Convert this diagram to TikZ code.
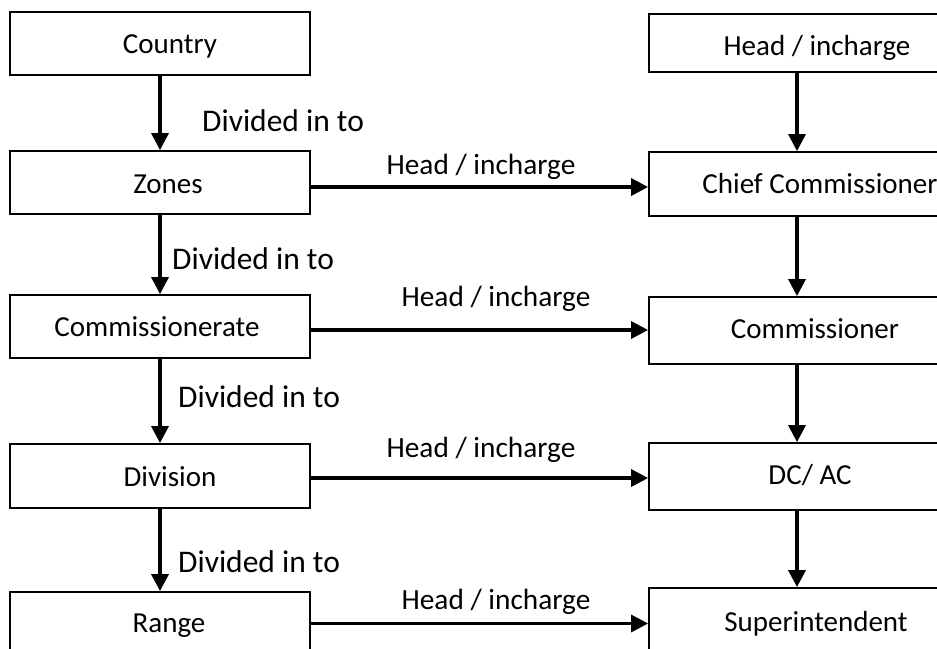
\documentclass[tikz,border=0pt]{standalone}
\usepackage{fontspec}
\setmainfont{Carlito}
\usetikzlibrary{arrows.meta}
\begin{document}
\begin{tikzpicture}[x=1pt,y=-1pt,
  box/.style={draw, line width=1.8pt, inner sep=0pt, minimum width=300pt},
  rbox/.style={draw, line width=1.8pt, inner sep=0pt, minimum width=296pt},
  txt/.style={inner sep=0pt, anchor=base, font=\fontsize{29}{35}\selectfont},
  lbl/.style={inner sep=0pt, anchor=base west, font=\fontsize{31.5}{38}\selectfont},
  hlbl/.style={inner sep=0pt, anchor=base, font=\fontsize{29.3}{35}\selectfont},
  arr/.style={line width=3.3pt, -{Triangle[length=17pt,width=17pt]}}]
\useasboundingbox (0,0) rectangle (937,648);
\clip (0,0) rectangle (937,648);
% left column
\node[box, minimum height=63pt] (country) at (160,43.5) {};
\node[box, minimum height=63pt] (zones) at (160,182.5) {};
\node[box, minimum height=63pt] (commte) at (160,326.5) {};
\node[box, minimum height=64pt] (division) at (160,476) {};
\node[box, minimum height=63pt] (range) at (160,623.5) {};
\node[txt] (countryT) at (170,53) {Country};
\node[txt] (zonesT) at (168,193) {Zones};
\node[txt] (commteT) at (157,336) {Commissionerate};
\node[txt] (divisionT) at (170,486) {Division};
\node[txt] (rangeT) at (169,632) {Range};
% right column
\node[rbox, minimum height=58pt] (head) at (797,43) {};
\node[rbox, minimum height=64pt] (chief) at (797,184) {};
\node[rbox, minimum height=67pt] (commr) at (797,330.5) {};
\node[rbox, minimum height=67pt] (dcac) at (797,476.5) {};
\node[rbox, minimum height=67pt] (supdt) at (797,621.5) {};
\node[txt] (headT) at (817,55) {Head / incharge};
\node[txt] (chiefT) at (820,193) {Chief Commissioner};
\node[txt] (commrT) at (815,338) {Commissioner};
\node[txt] (dcacT) at (810,484) {DC/ AC};
\node[txt] (supdtT) at (816,631) {Superintendent};
% vertical arrows
\draw[arr] (country.south) -- (zones.north);
\draw[arr] (zones.south) -- (commte.north);
\draw[arr] (commte.south) -- (division.north);
\draw[arr] (division.south) -- (range.north);
\draw[arr] (head.south) -- (chief.north);
\draw[arr] (chief.south) -- (commr.north);
\draw[arr] (commr.south) -- (dcac.north);
\draw[arr] (dcac.south) -- (supdt.north);
% horizontal arrows
\draw[arr] ([yshift=-4.5pt]zones.east) -- ([yshift=-4.5pt]zones.east -| chief.west);
\draw[arr] ([yshift=-3.5pt]commte.east) -- ([yshift=-3.5pt]commte.east -| commr.west);
\draw[arr] ([yshift=-2pt]division.east) -- ([yshift=-2pt]division.east -| dcac.west);
\draw[arr] (range.east) -- (range.east -| supdt.west);
% labels
\node[lbl] (d1) at (202,131) {Divided in to};
\node[lbl] (d2) at (172,269) {Divided in to};
\node[lbl] (d3) at (178,407) {Divided in to};
\node[lbl] (d4) at (178,572) {Divided in to};
\node[hlbl] (h1) at (481,174) {Head / incharge};
\node[hlbl] (h2) at (496,306) {Head / incharge};
\node[hlbl] (h3) at (481,457) {Head / incharge};
\node[hlbl] (h4) at (496,609) {Head / incharge};
\end{tikzpicture}
\end{document}
